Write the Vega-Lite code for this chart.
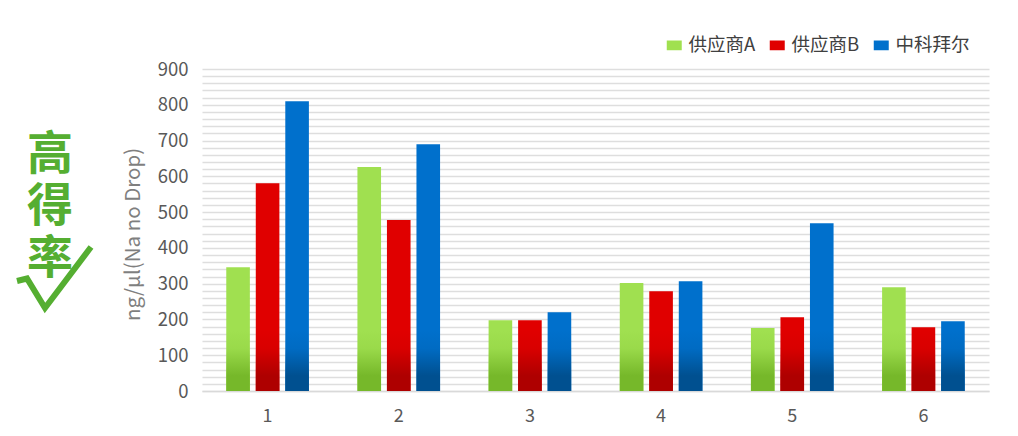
{
  "$schema": "https://vega.github.io/schema/vega-lite/v6.json",
  "background": "white",
  "padding": {"left": 0, "top": 36, "right": 28, "bottom": 8},
  "spacing": 10,
  "config": {"view": {"stroke": null}, "font": "Noto Sans CJK SC"},
  "datasets": {
    "yields": [
      {"sample": "1", "vendor": "供应商A", "conc": 346},
      {"sample": "1", "vendor": "供应商B", "conc": 581},
      {"sample": "1", "vendor": "中科拜尔", "conc": 810},
      {"sample": "2", "vendor": "供应商A", "conc": 626},
      {"sample": "2", "vendor": "供应商B", "conc": 478},
      {"sample": "2", "vendor": "中科拜尔", "conc": 690},
      {"sample": "3", "vendor": "供应商A", "conc": 198},
      {"sample": "3", "vendor": "供应商B", "conc": 198},
      {"sample": "3", "vendor": "中科拜尔", "conc": 220},
      {"sample": "4", "vendor": "供应商A", "conc": 302},
      {"sample": "4", "vendor": "供应商B", "conc": 279},
      {"sample": "4", "vendor": "中科拜尔", "conc": 307},
      {"sample": "5", "vendor": "供应商A", "conc": 176},
      {"sample": "5", "vendor": "供应商B", "conc": 206},
      {"sample": "5", "vendor": "中科拜尔", "conc": 469},
      {"sample": "6", "vendor": "供应商A", "conc": 290},
      {"sample": "6", "vendor": "供应商B", "conc": 178},
      {"sample": "6", "vendor": "中科拜尔", "conc": 195}
    ],
    "badgeText": [
      {"a": 50, "b": 155, "label": "高\n得\n率"}
    ],
    "badgeCheck": [
      {"step": 1, "a": 17, "b": 281},
      {"step": 2, "a": 27, "b": 278.5},
      {"step": 3, "a": 45, "b": 308},
      {"step": 4, "a": 91, "b": 247}
    ]
  },
  "hconcat": [
    {
      "width": 113,
      "height": 322,
      "layer": [
        {
          "data": {"name": "badgeCheck"},
          "mark": {"type": "line", "color": "#55AE31", "strokeWidth": 6, "strokeJoin": "miter", "strokeCap": "butt"},
          "encoding": {
            "x": {"field": "a", "type": "quantitative", "scale": {"domain": [0, 113], "nice": false, "zero": false}, "axis": null},
            "y": {"field": "b", "type": "quantitative", "scale": {"domain": [391, 69], "nice": false, "zero": false}, "axis": null},
            "order": {"field": "step"}
          }
        },
        {
          "data": {"name": "badgeText"},
          "mark": {"type": "text", "color": "#55AE31", "fontSize": 46, "fontWeight": "bold", "font": "Noto Sans CJK SC", "baseline": "middle", "lineBreak": "\n", "lineHeight": 52},
          "encoding": {
            "x": {"field": "a", "type": "quantitative"},
            "y": {"field": "b", "type": "quantitative"},
            "text": {"field": "label"}
          }
        }
      ]
    },
    {
      "width": 787,
      "height": 322,
      "data": {"name": "yields"},
      "encoding": {
        "x": {
          "field": "sample",
          "type": "nominal",
          "title": null,
          "scale": {"paddingInner": 0.37, "paddingOuter": 0.185},
          "axis": {
            "labelAngle": 0,
            "labelFontSize": 18,
            "labelColor": "#595959",
            "labelPadding": 16,
            "ticks": false,
            "domainColor": "#D9D9D9",
            "domainWidth": 1.5,
            "grid": false
          }
        },
        "xOffset": {
          "field": "vendor",
          "type": "nominal",
          "sort": ["供应商A", "供应商B", "中科拜尔"],
          "scale": {"paddingInner": 0.2, "paddingOuter": 0}
        }
      },
      "layer": [
        {
          "mark": {"type": "bar"},
          "encoding": {
            "y": {
              "field": "conc",
              "type": "quantitative",
              "title": "ng/μl(Na no Drop)",
              "scale": {"domain": [0, 900], "nice": false},
              "axis": {
                "values": [0, 20, 40, 60, 80, 100, 120, 140, 160, 180, 200, 220, 240, 260, 280, 300, 320, 340, 360, 380, 400, 420, 440, 460, 480, 500, 520, 540, 560, 580, 600, 620, 640, 660, 680, 700, 720, 740, 760, 780, 800, 820, 840, 860, 880, 900],
                "tickCount": 46,
                "labelExpr": "datum.value % 100 === 0 ? datum.label : ''",
                "labelOverlap": false,
                "labelFontSize": 18.5,
                "labelColor": "#595959",
                "labelPadding": 14,
                "ticks": false,
                "domain": false,
                "grid": true,
                "gridColor": "#DEDEDE",
                "gridWidth": 1.5,
                "titleFontSize": 20.5,
                "titleFontWeight": "normal",
                "titleColor": "#7F7F7F",
                "titlePadding": 14,
                "titleY": 165
              }
            },
            "color": {
              "field": "vendor",
              "type": "nominal",
              "sort": ["供应商A", "供应商B", "中科拜尔"],
              "scale": {"domain": ["供应商A", "供应商B", "中科拜尔"], "range": ["#A0E050", "#E00000", "#0070CC"]},
              "legend": {
                "title": null,
                "orient": "none",
                "direction": "horizontal",
                "legendX": 665,
                "legendY": -33,
                "symbolType": "M-1,-0.65H1V0.65H-1Z",
                "symbolSize": 225,
                "symbolStrokeWidth": 0,
                "labelFontSize": 18.5,
                "labelColor": "#404040",
                "labelOffset": 5,
                "columnPadding": 12
              }
            }
          }
        },
        {
          "transform": [{"filter": "datum.vendor === '供应商A'"}],
          "mark": {
            "type": "bar",
            "color": {
              "gradient": "linear",
              "x1": 0, "y1": 0, "x2": 0, "y2": 1,
              "stops": [
                {"offset": 0, "color": "rgba(118,184,42,0)"},
                {"offset": 0.3, "color": "rgba(118,184,42,0.15)"},
                {"offset": 0.75, "color": "rgba(118,184,42,1)"},
                {"offset": 1, "color": "rgba(118,184,42,1)"}
              ]
            }
          },
          "encoding": {"y": {"datum": 170, "type": "quantitative"}, "y2": {"datum": 0}}
        },
        {
          "transform": [{"filter": "datum.vendor === '供应商B'"}],
          "mark": {
            "type": "bar",
            "color": {
              "gradient": "linear",
              "x1": 0, "y1": 0, "x2": 0, "y2": 1,
              "stops": [
                {"offset": 0, "color": "rgba(174,0,0,0)"},
                {"offset": 0.3, "color": "rgba(174,0,0,0.15)"},
                {"offset": 0.75, "color": "rgba(174,0,0,1)"},
                {"offset": 1, "color": "rgba(174,0,0,1)"}
              ]
            }
          },
          "encoding": {"y": {"datum": 170, "type": "quantitative"}, "y2": {"datum": 0}}
        },
        {
          "transform": [{"filter": "datum.vendor === '中科拜尔'"}],
          "mark": {
            "type": "bar",
            "color": {
              "gradient": "linear",
              "x1": 0, "y1": 0, "x2": 0, "y2": 1,
              "stops": [
                {"offset": 0, "color": "rgba(0,80,144,0)"},
                {"offset": 0.3, "color": "rgba(0,80,144,0.15)"},
                {"offset": 0.75, "color": "rgba(0,80,144,1)"},
                {"offset": 1, "color": "rgba(0,80,144,1)"}
              ]
            }
          },
          "encoding": {"y": {"datum": 170, "type": "quantitative"}, "y2": {"datum": 0}}
        }
      ]
    }
  ]
}
